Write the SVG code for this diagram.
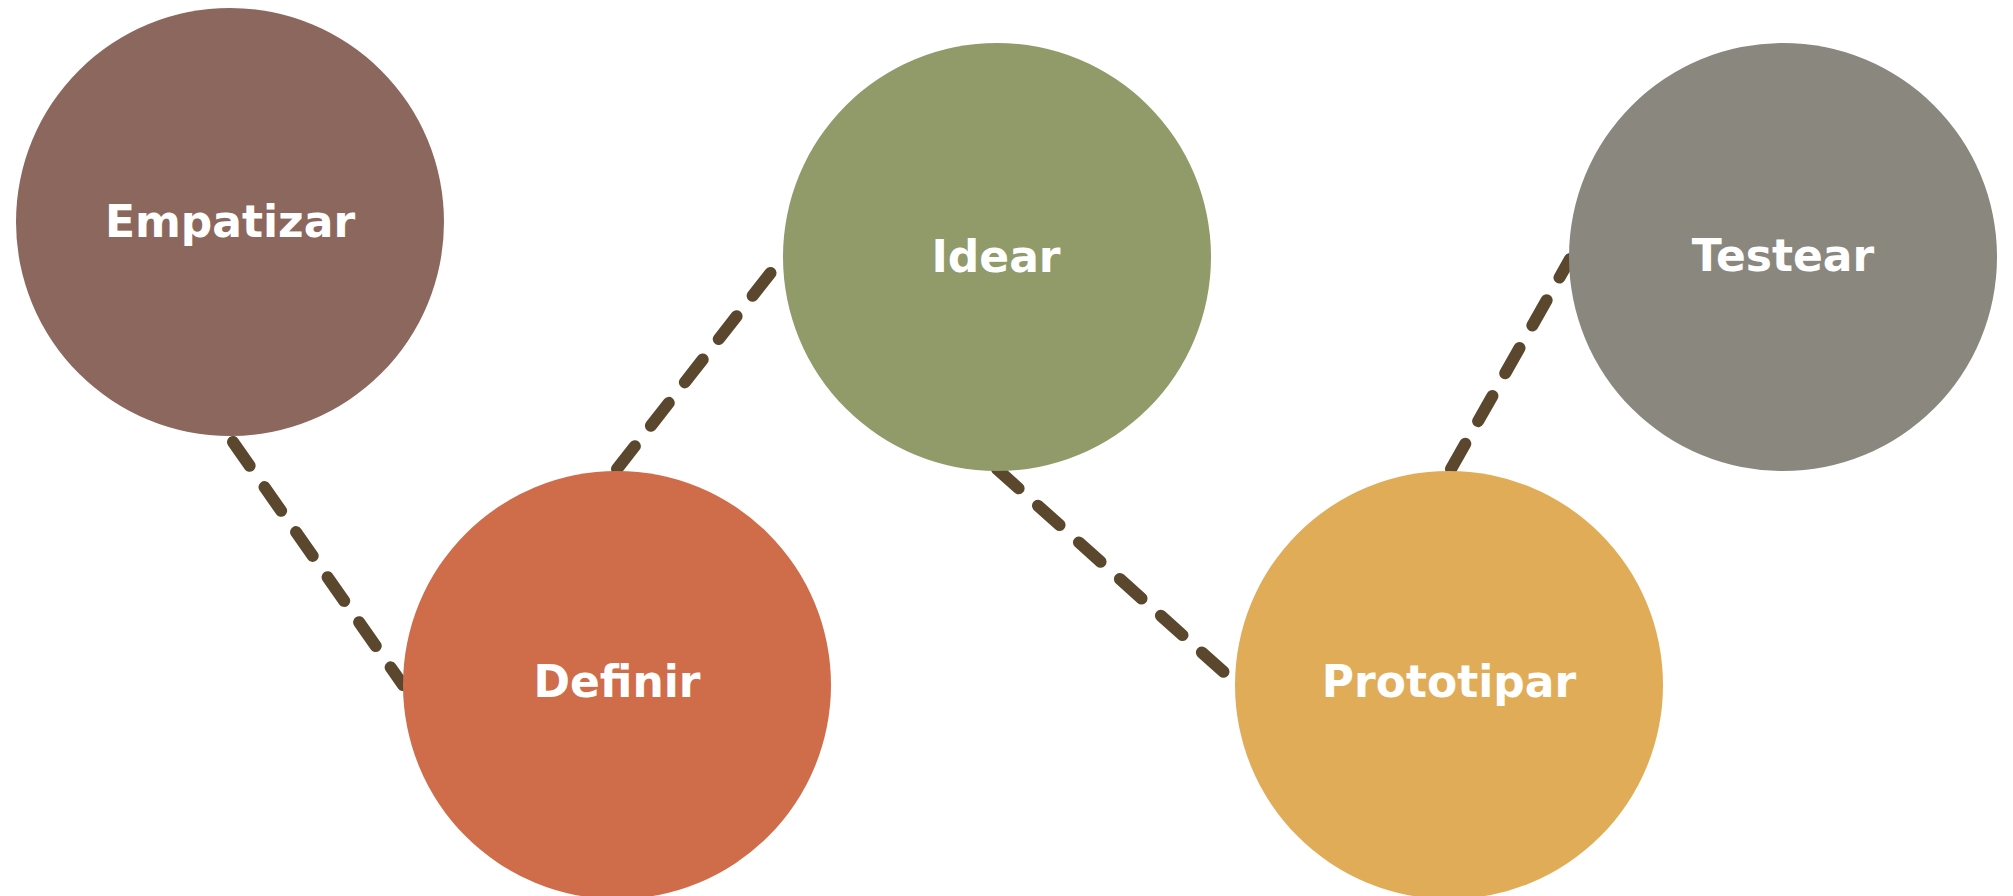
<svg xmlns="http://www.w3.org/2000/svg" width="2013" height="896" viewBox="0 0 2013 896">
<style>
.lbl{font-family:"DejaVu Sans","Liberation Sans",sans-serif;font-weight:700;font-size:44px;fill:#ffffff;text-anchor:middle}
.dash{stroke:#5a472d;stroke-width:12;stroke-linecap:round;stroke-dasharray:29 26;fill:none}
</style>
<rect width="2013" height="896" fill="#ffffff"/>
<g id="connectors">
<line class="dash" x1="233" y1="442" x2="403" y2="685"/>
<line class="dash" x1="617" y1="469" x2="783" y2="257"/>
<line class="dash" x1="997" y1="469" x2="1236" y2="683"/>
<line class="dash" x1="1451" y1="469" x2="1570" y2="259"/>
</g>
<g id="empatizar"><circle cx="230" cy="222" r="214" fill="#8c675d"/><text class="lbl" x="230" y="237">Empatizar</text></g>
<g id="definir"><circle cx="617" cy="685" r="214" fill="#cf6c4a"/><text class="lbl" x="617" y="697">Definir</text></g>
<g id="idear"><circle cx="997" cy="257" r="214" fill="#919a69"/><text class="lbl" x="996" y="272">Idear</text></g>
<g id="prototipar"><circle cx="1449" cy="685" r="214" fill="#e1ac57"/><text class="lbl" x="1449" y="697">Prototipar</text></g>
<g id="testear"><circle cx="1783" cy="257" r="214" fill="#8a877e"/><text class="lbl" x="1783" y="271">Testear</text></g>
</svg>
